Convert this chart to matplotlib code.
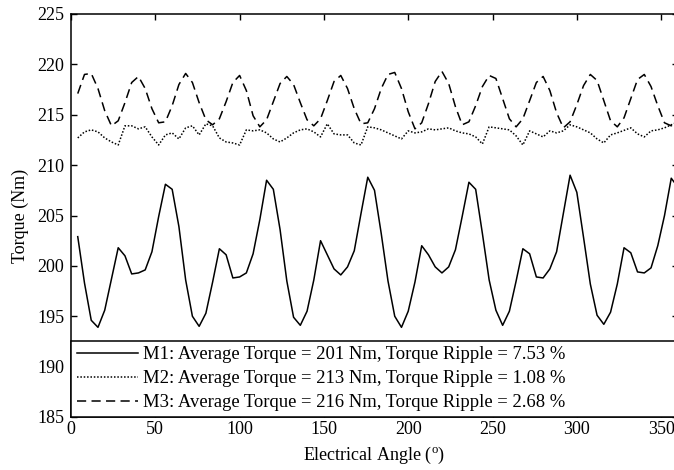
import matplotlib
matplotlib.use("Agg")
import matplotlib.pyplot as plt
import numpy as np

plt.rcParams["font.family"] = ["Liberation Serif", "DejaVu Serif"]
plt.rcParams["mathtext.fontset"] = "custom"
plt.rcParams["mathtext.rm"] = "Liberation Serif"
plt.rcParams["mathtext.it"] = "Liberation Serif:italic"

# electrical angle (deg), 4 deg step
angle = np.arange(4, 361, 4)

m1 = [202.9, 198.3, 194.6, 193.9, 195.6, 198.7, 201.8, 201.0, 199.2, 199.3,
      199.6, 201.4, 204.9, 208.1, 207.6, 203.9, 198.6, 195.0, 194.0, 195.3,
      198.4, 201.7, 201.1, 198.8, 198.9, 199.3, 201.2, 204.6, 208.5, 207.6,
      203.6, 198.5, 194.9, 194.1, 195.5, 198.6, 202.5, 201.1, 199.7, 199.1,
      199.9, 201.5, 205.2, 208.8, 207.5, 203.2, 198.5, 195.0, 193.9, 195.5,
      198.4, 202.0, 201.1, 199.9, 199.3, 199.9, 201.6, 204.9, 208.3, 207.6,
      203.2, 198.6, 195.6, 194.1, 195.5, 198.5, 201.7, 201.2, 198.9, 198.8,
      199.7, 201.4, 205.2, 209.0, 207.3, 202.8, 198.2, 195.1, 194.2, 195.4,
      198.2, 201.8, 201.3, 199.4, 199.3, 199.8, 202.0, 205.0, 208.7, 207.8]

m2 = [212.7, 213.3, 213.5, 213.3, 212.7, 212.3, 212.0, 213.9, 213.9, 213.6,
      213.8, 212.8, 212.0, 213.0, 213.2, 212.6, 213.7, 213.9, 213.0, 214.1,
      213.9, 212.7, 212.3, 212.2, 212.0, 213.5, 213.4, 213.5, 213.2, 212.6,
      212.3, 212.7, 213.2, 213.5, 213.6, 213.3, 212.8, 214.1, 213.1, 213.0,
      213.0, 212.2, 212.0, 213.8, 213.7, 213.5, 213.2, 212.9, 212.6, 213.4,
      213.2, 213.3, 213.6, 213.5, 213.6, 213.7, 213.4, 213.2, 213.1, 212.8,
      212.1, 213.8, 213.7, 213.6, 213.5, 212.9, 212.0, 213.4, 213.1, 212.8,
      213.4, 213.2, 213.4, 214.0, 213.8, 213.5, 213.2, 212.6, 212.2, 213.0,
      213.2, 213.45, 213.7, 213.1, 212.8, 213.4, 213.5, 213.7, 214.0, 214.3]

m3 = [217.1, 219.0, 219.1, 217.6, 215.4, 213.9, 214.4, 216.2, 218.2, 218.8,
      217.6, 215.6, 214.2, 214.3, 215.9, 218.0, 219.1, 218.2, 216.2, 214.5,
      214.0, 214.6, 216.3, 218.2, 218.9, 217.4, 214.9, 213.8, 214.5, 216.3,
      218.1, 218.8, 218.0, 216.2, 214.5, 213.9, 214.6, 216.4, 218.3, 218.9,
      217.6, 215.6, 214.1, 214.2, 215.6, 217.6, 219.0, 219.2, 217.6, 215.3,
      213.6, 214.2, 216.1, 218.3, 219.3, 218.1, 215.8, 214.0, 214.3, 215.9,
      217.8, 218.9, 218.6, 216.6, 214.6, 213.8, 214.6, 216.4, 218.2, 218.8,
      217.4, 215.2, 213.7, 214.3, 216.0, 217.9, 219.0, 218.4, 216.4, 214.4,
      213.8, 214.7, 216.6, 218.5, 219.0, 217.8, 215.9, 214.2, 213.9, 214.3]

labels = ["M1: Average Torque = 201 Nm, Torque Ripple = 7.53 %",
          "M2: Average Torque = 213 Nm, Torque Ripple = 1.08 %",
          "M3: Average Torque = 216 Nm, Torque Ripple = 2.68 %"]

fig = plt.figure(figsize=(6.74, 4.70), dpi=100)
ax = fig.add_axes([71/674, 1 - 417/470, (678 - 71)/674, (417 - 14)/470])

ax.plot(angle, m1, color="k", lw=1.1, ls="-", label=labels[0])
ax.plot(angle, m2, color="k", lw=1.1, ls=(0, (1, 1.2)), label=labels[1])
ax.plot(angle, m3, color="k", lw=1.1, ls=(0, (6, 3.5)), label=labels[2])

ax.set_xlim(0, 360)
ax.set_ylim(185, 225)
ax.set_xticks(np.arange(0, 351, 50))
ax.set_yticks(np.arange(185, 226, 5))
ax.tick_params(direction="in", length=4.5, width=1, top=True, right=True,
               labelsize=13)
ax.tick_params(axis="x", pad=3)
ax.tick_params(axis="y", pad=5)
for s in ax.spines.values():
    s.set_linewidth(1.1)

ax.set_xlabel(r"Electrical Angle ($^{\mathrm{o}}$)", fontsize=13, labelpad=5)
ax.set_ylabel("Torque (Nm)", fontsize=13, labelpad=6)

leg = ax.legend(loc="lower left", bbox_to_anchor=(0, 0, 1, 1), mode="expand",
                borderaxespad=0, fancybox=False, framealpha=1, edgecolor="k",
                fontsize=13.4, handlelength=3.3, handletextpad=0.25,
                labelspacing=0.38, borderpad=0.3)
leg.get_frame().set_linewidth(1.1)

fig.savefig("out.png", dpi=100)
